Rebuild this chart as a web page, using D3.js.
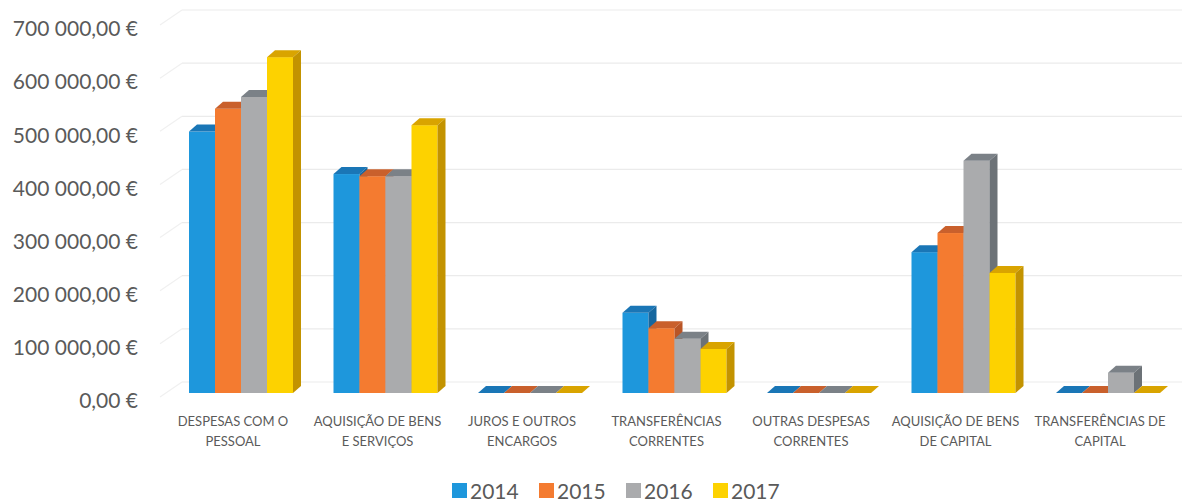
<!DOCTYPE html>
<html>
<head>
<meta charset="utf-8">
<script src="https://cdn.jsdelivr.net/npm/d3@7"></script>
<style>
  body { margin: 0; background: #fff; }
  text { font-family: Lato, "Open Sans", sans-serif; fill: #5a5a5a; }
</style>
</head>
<body>
<svg id="mainSvg" width="1182" height="503"></svg>
<script>
// categories (two label lines each)
let categories = [
    ["DESPESAS COM O", "PESSOAL"],
    ["AQUISIÇÃO DE BENS", "E SERVIÇOS"],
    ["JUROS E OUTROS", "ENCARGOS"],
    ["TRANSFERÊNCIAS", "CORRENTES"],
    ["OUTRAS DESPESAS", "CORRENTES"],
    ["AQUISIÇÃO DE BENS", "DE CAPITAL"],
    ["TRANSFERÊNCIAS DE", "CAPITAL"]
];
let years = ["2014", "2015", "2016", "2017"];

let values2014 = [492000, 412000, 0, 151000, 0, 265000, 0];
let values2015 = [535000, 408000, 0, 122000, 0, 301000, 0];
let values2016 = [557000, 408000, 0, 102000, 0, 437000, 38000];
let values2017 = [632000, 504000, 0, 83000, 0, 226000, 0];

let yTicks = [0, 100000, 200000, 300000, 400000, 500000, 600000, 700000];

let colors = {
    "2014": {front: "#1e97dc", top: "#1a76b6", side: "#16679f"},
    "2015": {front: "#f47b30", top: "#c9602c", side: "#b95526"},
    "2016": {front: "#aaabad", top: "#7b8187", side: "#6c7277"},
    "2017": {front: "#fdd200", top: "#d9a400", side: "#c39300"}
};

let width, height;
let depthX = 8, depthY = -7;

function initMainSvg() {
    let canvas = d3.select("#mainSvg");
    width = parseInt(canvas.attr("width"));
    height = parseInt(canvas.attr("height"));

    let catNames = categories.map(c => c.join(" "));
    let x = d3.scaleBand().domain(catNames).range([160.75, 1172.25]);
    let x1 = d3.scaleBand().domain(years).range([-44, 60]);

    // bar scale (front plane) and back wall / label offsets
    let y = d3.scaleLinear().domain([0, 700000]).range([393, 21]);
    let yBack = d3.scaleLinear().domain([0, 700000]).range([382, 10]);
    let yLabel = d3.scaleLinear().domain([0, 700000]).range([401, 29]);

    // gridlines: back wall + left side wall
    let grid = canvas.append("g");
    grid.selectAll("line.back")
        .data(yTicks)
        .enter()
            .append("line")
            .attr("x1", 182)
            .attr("x2", width)
            .attr("y1", d => yBack(d))
            .attr("y2", d => yBack(d))
            .attr("style", "stroke:#ebebeb;stroke-width:1.2");
    grid.selectAll("line.side")
        .data(yTicks)
        .enter()
            .append("line")
            .attr("x1", 160)
            .attr("x2", 182)
            .attr("y1", d => yBack(d) + 15)
            .attr("y2", d => yBack(d))
            .attr("style", "stroke:#f0f0f0;stroke-width:1.2");

    // y axis labels
    let fmt = v => d3.format(",.2f")(v).replace(/,/g, " ").replace(".", ",") + " €";
    canvas.selectAll("text.ylab")
        .data(yTicks)
        .enter()
            .append("text")
            .attr("x", 138)
            .attr("y", d => yLabel(d))
            .attr("dy", "0.35em")
            .attr("text-anchor", "end")
            .attr("font-size", 21)
            .text(d => fmt(d));

    // bars
    let series = [values2014, values2015, values2016, values2017];
    let barData = [];
    catNames.forEach((c, i) => {
        years.forEach((yr, j) => {
            barData.push({cat: c, year: yr, value: series[j][i]});
        });
    });

    let bw = x1.bandwidth();
    let bars = canvas.selectAll("g.bar")
        .data(barData)
        .enter()
            .append("g");

    bars.append("rect")
        .attr("x", d => x(d.cat) + x.bandwidth() / 2 + x1(d.year))
        .attr("y", d => y(d.value))
        .attr("width", bw)
        .attr("height", d => y(0) - y(d.value))
        .attr("fill", d => colors[d.year].front);

    bars.append("path")
        .attr("d", d => {
            let x0 = x(d.cat) + x.bandwidth() / 2 + x1(d.year);
            let yt = y(d.value);
            return `M${x0},${yt}L${x0 + depthX},${yt + depthY}L${x0 + bw + depthX},${yt + depthY}L${x0 + bw},${yt}Z`;
        })
        .attr("fill", d => colors[d.year].top);

    bars.append("path")
        .attr("d", d => {
            let x0 = x(d.cat) + x.bandwidth() / 2 + x1(d.year) + bw;
            let yt = y(d.value), yb = y(0);
            return `M${x0},${yt}L${x0 + depthX},${yt + depthY}L${x0 + depthX},${yb + depthY}L${x0},${yb}Z`;
        })
        .attr("fill", d => colors[d.year].side);

    // category labels
    let cl = canvas.selectAll("text.cat")
        .data(categories)
        .enter()
            .append("text")
            .attr("text-anchor", "middle")
            .attr("font-size", 13);
    cl.selectAll("tspan")
        .data(d => d.map(s => ({line: s, key: d.join(" ")})))
        .enter()
            .append("tspan")
            .attr("x", d => x(d.key) + x.bandwidth() / 2)
            .attr("y", (d, i) => 426 + i * 20)
            .text(d => d.line);

    // legend
    let lx = d3.scaleBand().domain(years).range([452, 800]);
    let lg = canvas.selectAll("g.legend")
        .data(years)
        .enter()
            .append("g");
    lg.append("rect")
        .attr("x", d => lx(d))
        .attr("y", 483)
        .attr("width", 15)
        .attr("height", 15)
        .attr("fill", d => colors[d].front);
    lg.append("text")
        .attr("x", d => lx(d) + 18)
        .attr("y", 499)
        .attr("font-size", 21)
        .text(d => d);
}

initMainSvg();
</script>
</body>
</html>
